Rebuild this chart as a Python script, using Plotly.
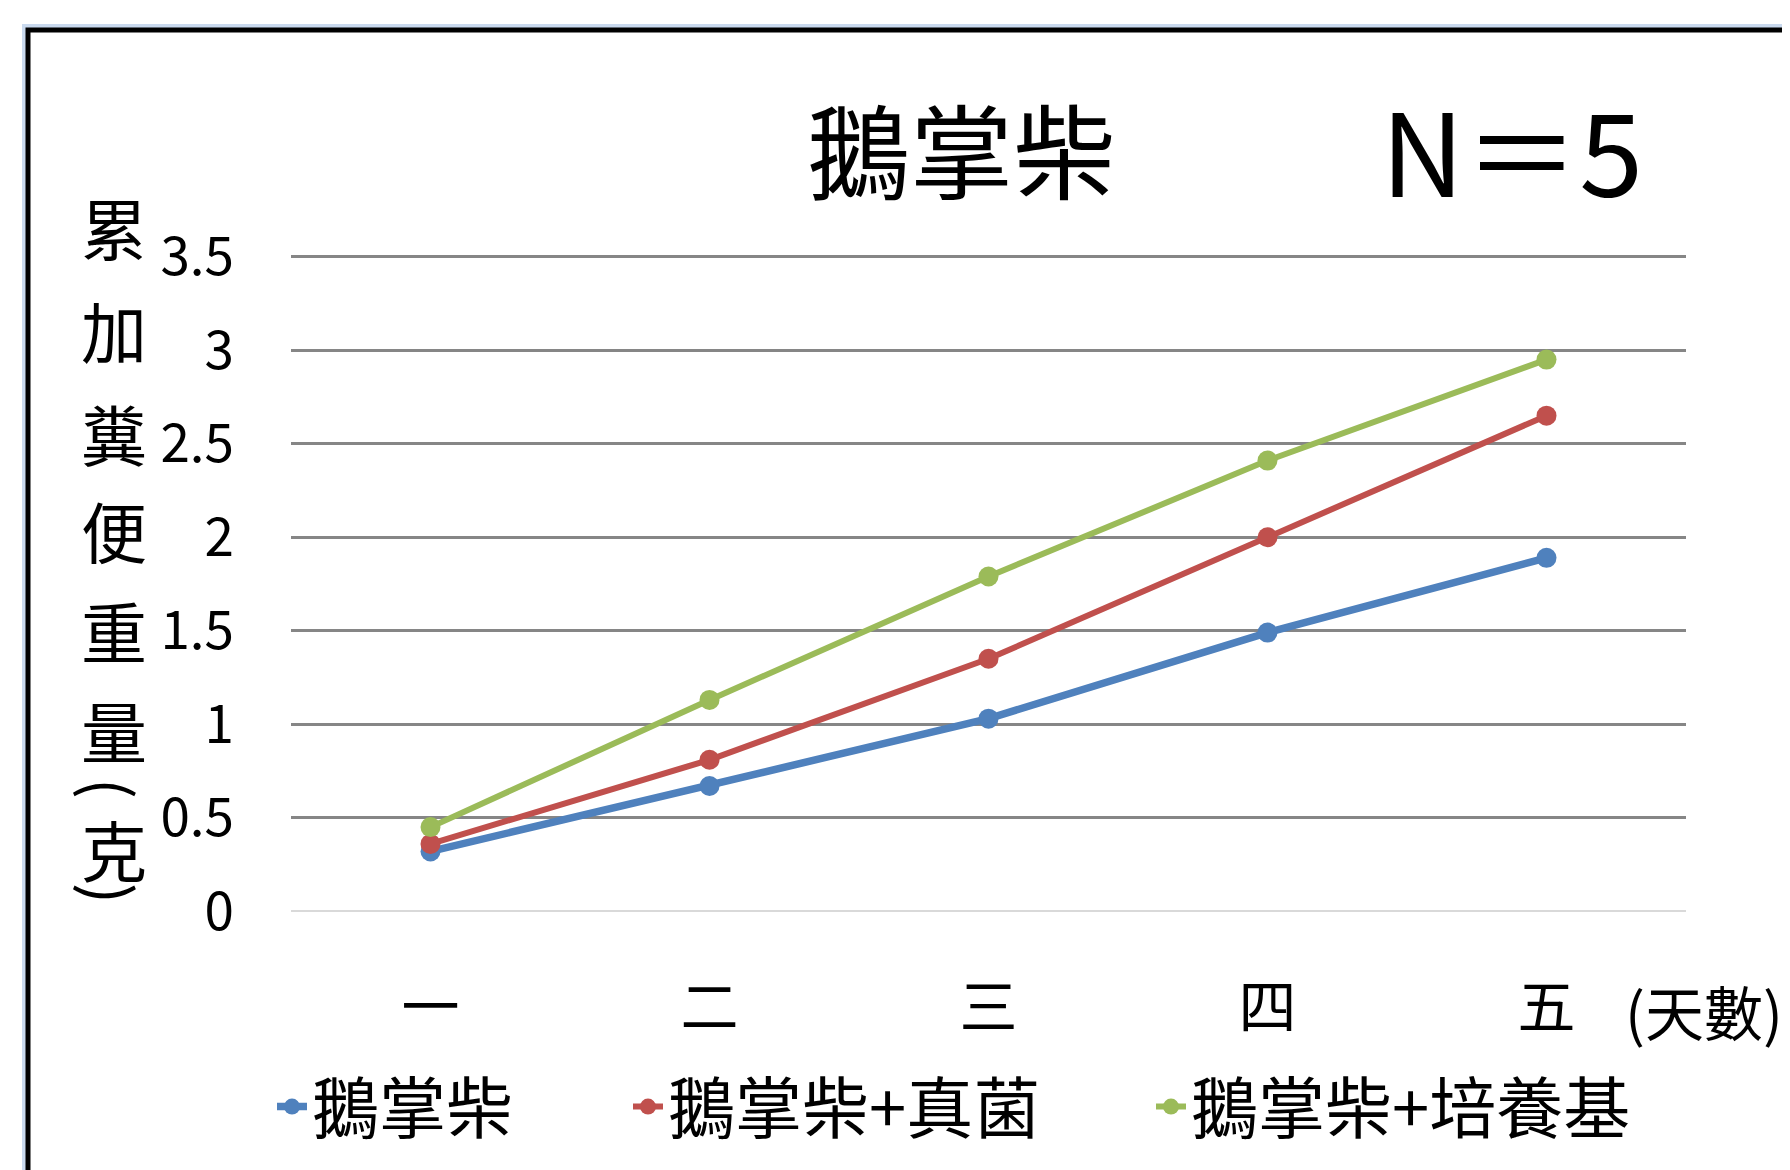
import plotly.graph_objects as go

days = ["一", "二", "三", "四", "五"]
series_names = ["鵝掌柴", "鵝掌柴+真菌", "鵝掌柴+培養基"]
vals_plain = [0.32, 0.67, 1.03, 1.49, 1.89]
vals_fungus = [0.36, 0.81, 1.35, 2.00, 2.65]
vals_medium = [0.45, 1.13, 1.79, 2.41, 2.95]
y_ticks = [0, 0.5, 1, 1.5, 2, 2.5, 3, 3.5]
y_tick_text = ["0", "0.5", "1", "1.5", "2", "2.5", "3", "3.5"]
colors = ["#4F81BD", "#C0504D", "#9BBB59"]
ytitle_chars = ["累", "加", "糞", "便", "重", "量", "克"]
ytitle_parens = ["(", ")"]

OFF = 8  # default page body margin
W, H = 1790 - OFF, 1170 - OFF
L, R, T, B = 283, 104, 245, 255
PW, PH = W - L - R, H - T - B
FONT = "Noto Sans CJK TC"


def px(x):
    return (x - OFF - L) / PW


def py(y):
    return (H - B - (y - OFF)) / PH


fig = go.Figure()
legend_ids = ["legend", "legend2", "legend3"]
for name, vals, c, lw, lg in zip(series_names, [vals_plain, vals_fungus, vals_medium],
                                 colors, [7.5, 6, 6], legend_ids):
    fig.add_trace(go.Scatter(
        x=days, y=vals, name=name, mode="lines+markers",
        line=dict(color=c, width=lw),
        marker=dict(color=c, size=20, symbol="circle"),
        legend=lg,
    ))

legend_text_starts = [322, 678, 1201]
legend_common = dict(orientation="h", yanchor="middle", xanchor="left",
                     font=dict(size=67, family=FONT, color="black"),
                     bgcolor="rgba(0,0,0,0)", itemwidth=30)
legends = {}
for lg, ts in zip(legend_ids, legend_text_starts):
    legends[lg] = dict(x=px(ts - 50), y=py(1107), **legend_common)

fig.update_layout(
    width=W, height=H,
    margin=dict(l=L, r=R, t=T, b=B, autoexpand=False),
    paper_bgcolor="white", plot_bgcolor="white",
    font=dict(family=FONT, color="black"),
    showlegend=True,
    xaxis=dict(
        type="category", range=[-0.5, 4.5],
        showgrid=False, showline=False, zeroline=False, ticks="",
        tickfont=dict(size=58, family=FONT),
        ticklabelstandoff=54,
    ),
    yaxis=dict(
        range=[-0.02, 3.52],
        tickvals=y_ticks, ticktext=y_tick_text,
        showgrid=True, gridcolor="#868686", gridwidth=2.5,
        zeroline=True, zerolinecolor="#D9D9D9", zerolinewidth=2,
        showline=False, ticks="",
        tickfont=dict(size=53, family=FONT),
        ticklabelstandoff=56,
    ),
    **legends,
)

# frame
fig.add_shape(type="rect", xref="paper", yref="paper",
              x0=px(24), y0=py(26), x1=px(1810), y1=py(1190),
              line=dict(color="#C9D9EE", width=4), layer="below")
fig.add_shape(type="rect", xref="paper", yref="paper",
              x0=px(28), y0=py(30), x1=px(1810), y1=py(1190),
              line=dict(color="black", width=5), layer="below")

# title and N
fig.add_annotation(text="鵝掌柴", x=px(961), y=py(148), xref="paper", yref="paper",
                   showarrow=False, xanchor="center", yanchor="middle",
                   font=dict(size=103, family=FONT, color="black"))
fig.add_annotation(text="N＝5", x=px(1512), y=py(147), xref="paper", yref="paper",
                   showarrow=False, xanchor="center", yanchor="middle",
                   font=dict(size=115, family=FONT, color="black"))

# y title (vertical characters)
ytitle_pos = [226, 329, 432, 529, 629, 729, 848]
for ch, yy in zip(ytitle_chars, ytitle_pos):
    fig.add_annotation(text=ch, x=px(114), y=py(yy), xref="paper", yref="paper",
                       showarrow=False, xanchor="center", yanchor="middle",
                       font=dict(size=66, family=FONT, color="black"))
paren_pos = [788, 893]
for ch, yy in zip(ytitle_parens, paren_pos):
    fig.add_annotation(text=ch, x=px(112), y=py(yy), xref="paper", yref="paper",
                       showarrow=False, xanchor="center", yanchor="middle", textangle=90,
                       font=dict(size=62, family=FONT, color="black"))

# x unit
fig.add_annotation(text="(天數)", x=px(1704), y=py(1010), xref="paper", yref="paper",
                   showarrow=False, xanchor="center", yanchor="middle",
                   font=dict(size=59, family=FONT, color="black"))

fig.write_html("out.html")
